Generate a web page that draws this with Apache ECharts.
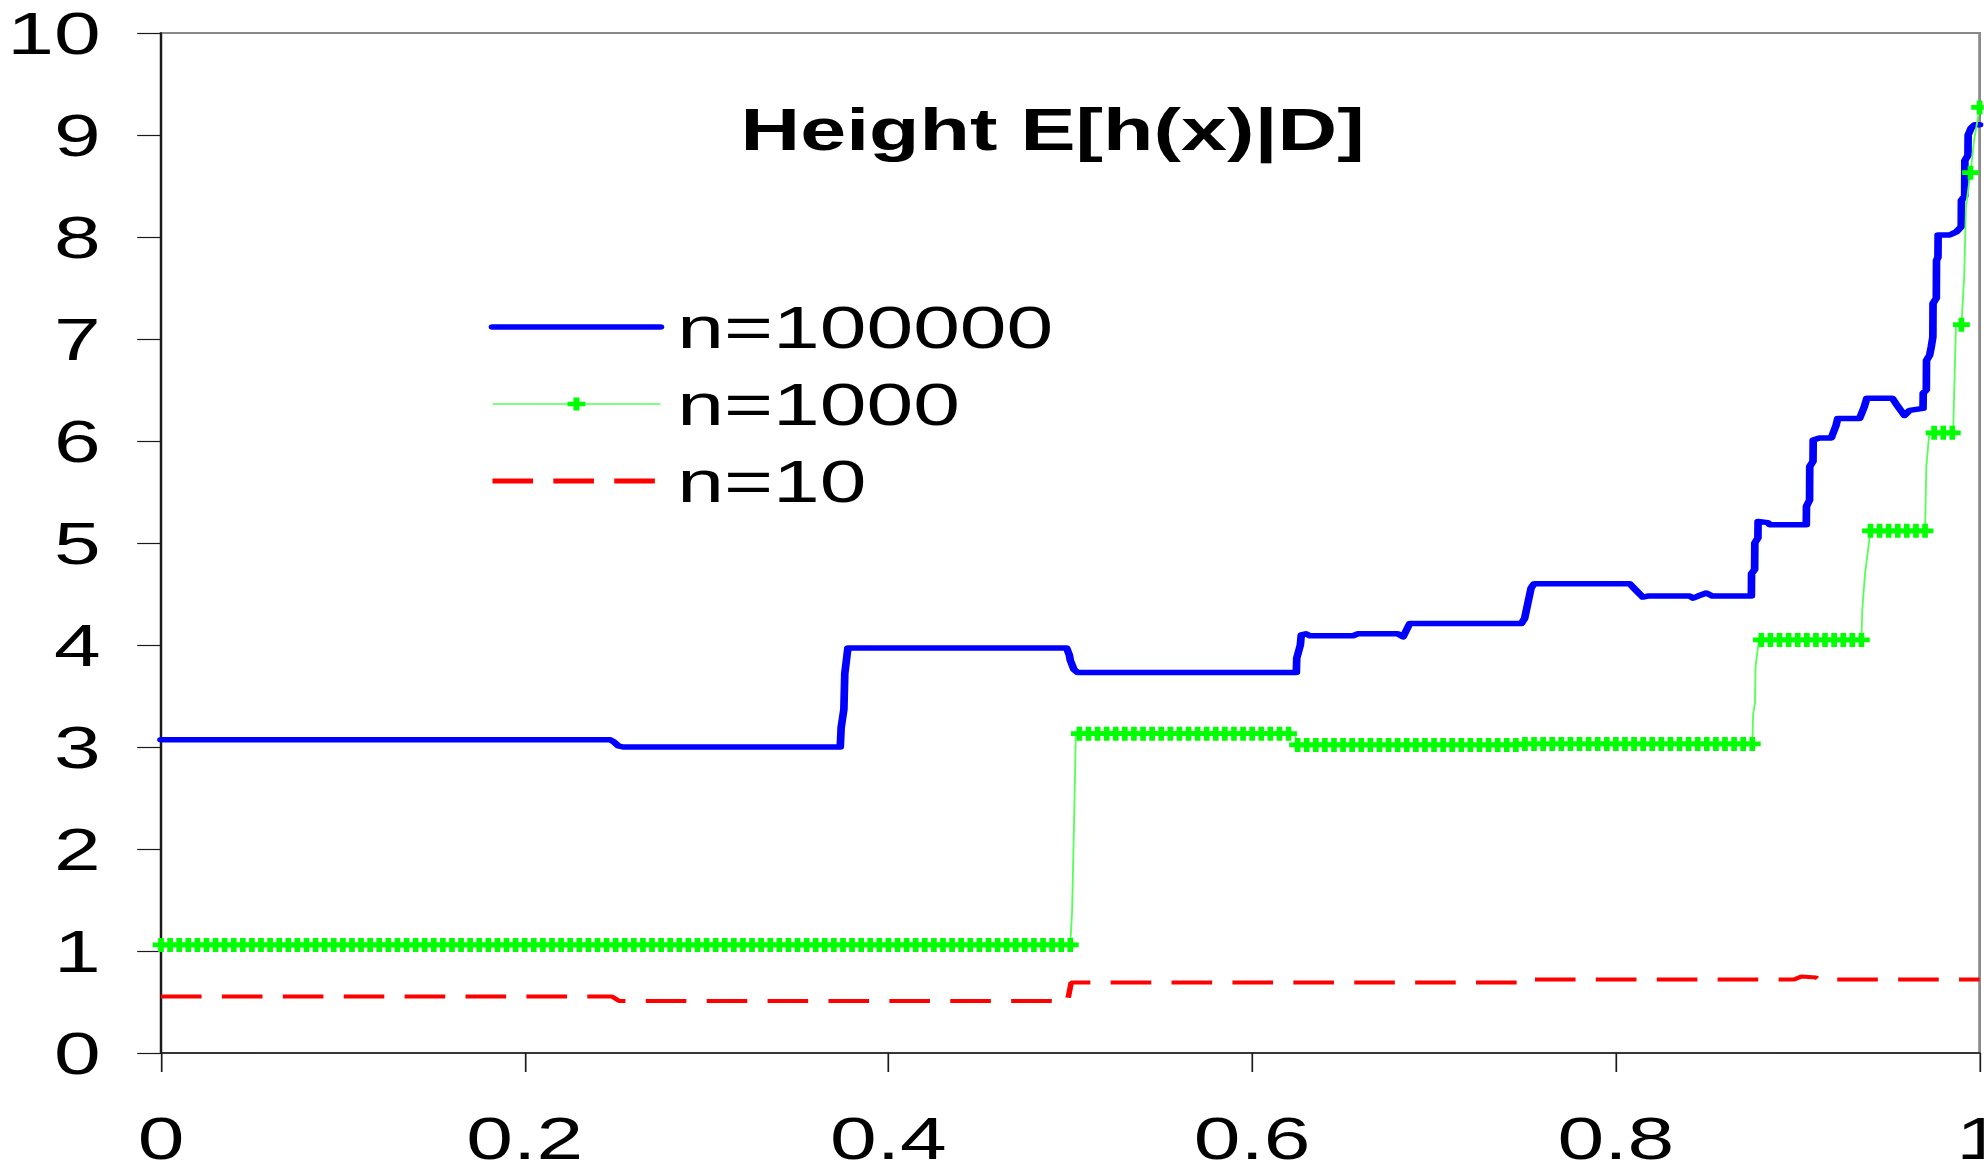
<!DOCTYPE html>
<html>
<head>
<meta charset="utf-8">
<script src="https://cdn.jsdelivr.net/npm/echarts@6.0.0/dist/echarts.min.js"></script>
<style>
html,body{margin:0;padding:0;background:#fff;overflow:hidden;width:1984px;height:1165px}
#chart{width:1417px;height:1165px;transform:scaleX(1.4);transform-origin:0 0}
</style>
</head>
<body>
<div id="chart"></div>
<script>
// ---- data ----
const titleText = 'Height E[h(x)|D]';
const seriesNames = ['n=100000', 'n=1000', 'n=10'];

// n=100000 (blue) breakpoints
const blueX = [0,0.247,0.249,0.2515,0.254,0.3735,0.374,0.3755,0.376,0.3777,0.498,0.4995,0.5,0.502,0.504,
  0.6243,0.6245,0.6265,0.627,0.6295,0.6317,0.6554,0.658,0.68,0.683,0.6866,0.748,0.7498,0.7516,0.7534,0.755,
  0.8076,0.8103,0.8148,0.8175,0.8406,0.8424,0.8452,0.8497,0.853,0.8745,0.8746,0.8763,0.8764,0.8781,0.8782,0.8836,0.8845,
  0.9047,0.9048,0.9065,0.9066,0.9084,0.9085,0.912,0.9185,0.9195,0.921,0.922,0.934,0.9365,0.938,0.952,0.955,0.9587,0.9615,
  0.9689,0.969,0.9707,0.9708,0.9725,0.9734,0.9743,0.9744,0.9762,0.9763,0.9771,0.9772,0.9835,0.9872,0.9899,0.99,
  0.9918,0.9919,0.9936,0.9937,0.9954,0.9973,1];
const blueY = [3.07,3.07,3.05,3.01,3.0,3.0,3.19,3.37,3.72,3.97,3.97,3.9,3.85,3.76,3.73,
  3.73,3.87,4.0,4.1,4.11,4.09,4.09,4.11,4.11,4.08,4.21,4.21,4.26,4.41,4.56,4.6,
  4.6,4.55,4.47,4.48,4.48,4.46,4.48,4.51,4.48,4.48,4.7,4.74,5.0,5.05,5.21,5.2,5.18,
  5.18,5.36,5.42,5.75,5.8,6.01,6.03,6.03,6.08,6.15,6.22,6.22,6.33,6.42,6.42,6.34,6.25,6.3,
  6.32,6.47,6.5,6.79,6.84,6.92,7.02,7.35,7.4,7.77,7.8,8.02,8.02,8.05,8.1,8.36,
  8.4,8.75,8.8,9.0,9.07,9.1,9.1];

// n=1000 (green) marker points
const greenX = [
  0,0.005,0.01,0.015,0.02,0.025,0.03,0.035,0.04,0.045,
  0.05,0.055,0.06,0.065,0.07,0.075,0.08,0.085,0.09,0.095,
  0.1,0.105,0.11,0.115,0.12,0.125,0.13,0.135,0.14,0.145,
  0.15,0.155,0.16,0.165,0.17,0.175,0.18,0.185,0.19,0.195,
  0.2,0.205,0.21,0.215,0.22,0.225,0.23,0.235,0.24,0.245,
  0.25,0.255,0.26,0.265,0.27,0.275,0.28,0.285,0.29,0.295,
  0.3,0.305,0.31,0.315,0.32,0.325,0.33,0.335,0.34,0.345,
  0.35,0.355,0.36,0.365,0.37,0.375,0.38,0.385,0.39,0.395,
  0.4,0.405,0.41,0.415,0.42,0.425,0.43,0.435,0.44,0.445,
  0.45,0.455,0.46,0.465,0.47,0.475,0.48,0.485,0.49,0.495,
  0.5,0.505,0.51,0.515,0.52,0.525,0.53,0.535,0.54,0.545,
  0.55,0.555,0.56,0.565,0.57,0.575,0.58,0.585,0.59,0.595,
  0.6,0.605,0.61,0.615,0.62,0.625,0.63,0.635,0.64,0.645,
  0.65,0.655,0.66,0.665,0.67,0.675,0.68,0.685,0.69,0.695,
  0.7,0.705,0.71,0.715,0.72,0.725,0.73,0.735,0.74,0.745,
  0.75,0.755,0.76,0.765,0.77,0.775,0.78,0.785,0.79,0.795,
  0.8,0.805,0.81,0.815,0.82,0.825,0.83,0.835,0.84,0.845,
  0.85,0.855,0.86,0.865,0.87,0.875,0.88,0.885,0.89,0.895,
  0.9,0.905,0.91,0.915,0.92,0.925,0.93,0.935,0.94,0.945,
  0.95,0.955,0.96,0.965,0.97,0.975,0.98,0.985,0.99,0.995,
  1];
const greenY = [
  1.06,1.06,1.06,1.06,1.06,1.06,1.06,1.06,1.06,1.06,
  1.06,1.06,1.06,1.06,1.06,1.06,1.06,1.06,1.06,1.06,
  1.06,1.06,1.06,1.06,1.06,1.06,1.06,1.06,1.06,1.06,
  1.06,1.06,1.06,1.06,1.06,1.06,1.06,1.06,1.06,1.06,
  1.06,1.06,1.06,1.06,1.06,1.06,1.06,1.06,1.06,1.06,
  1.06,1.06,1.06,1.06,1.06,1.06,1.06,1.06,1.06,1.06,
  1.06,1.06,1.06,1.06,1.06,1.06,1.06,1.06,1.06,1.06,
  1.06,1.06,1.06,1.06,1.06,1.06,1.06,1.06,1.06,1.06,
  1.06,1.06,1.06,1.06,1.06,1.06,1.06,1.06,1.06,1.06,
  1.06,1.06,1.06,1.06,1.06,1.06,1.06,1.06,1.06,1.06,
  1.06,3.13,3.13,3.13,3.13,3.13,3.13,3.13,3.13,3.13,
  3.13,3.13,3.13,3.13,3.13,3.13,3.13,3.13,3.13,3.13,
  3.13,3.13,3.13,3.13,3.13,3.02,3.02,3.02,3.02,3.02,
  3.02,3.02,3.02,3.02,3.02,3.02,3.02,3.02,3.02,3.02,
  3.02,3.02,3.02,3.02,3.02,3.02,3.02,3.02,3.02,3.02,
  3.03,3.03,3.03,3.03,3.03,3.03,3.03,3.03,3.03,3.03,
  3.03,3.03,3.03,3.03,3.03,3.03,3.03,3.03,3.03,3.03,
  3.03,3.03,3.03,3.03,3.03,3.03,4.05,4.05,4.05,4.05,
  4.05,4.05,4.05,4.05,4.05,4.05,4.05,4.05,5.12,5.12,
  5.12,5.12,5.12,5.12,5.12,6.08,6.08,6.08,7.14,8.63,
  9.27];
// n=1000 line bends between markers (no marker drawn)
const greenBendX = [0.501,0.502,0.503,0.6235,0.6245,0.8755,0.8765,0.8768,0.8785,0.9355,0.937,0.9707,0.9722,0.9855,0.9862,0.987,0.9915,0.9925,0.997];
const greenBendY = [1.4,2.2,3.1,3.13,3.03,3.33,3.43,3.79,4.03,4.35,4.7,5.75,6.05,6.11,6.6,7.12,7.6,8.3,8.95];

// n=10 (red) breakpoints
const redX = [0,0.248,0.252,0.4985,0.5005,0.752,0.754,0.898,0.902,0.91,0.912,1];
const redY = [0.555,0.555,0.51,0.51,0.69,0.69,0.72,0.72,0.75,0.74,0.72,0.72];

// axis ranges / ticks
const xMin = 0, xMax = 1, xStep = 0.2;
const yMin = 0, yMax = 10, yStep = 1;

// ---- build series data ----
const pairs = (xs, ys) => xs.map((x, i) => [x, ys[i]]);
const blueData = pairs(blueX, blueY);
const redData = pairs(redX, redY);
const greenData = greenX.map((x, i) => ({ value: [x, greenY[i]] }))
  .concat(greenBendX.map((x, i) => ({ value: [x, greenBendY[i]], symbol: 'none' })))
  .sort((a, b) => a.value[0] - b.value[0]);

const FONT = "'Liberation Sans', Arial, Helvetica, sans-serif";
const plusPath = 'path://M4.3,0H8.7V4.3H13V8.7H8.7V13H4.3V8.7H0V4.3H4.3Z';
const BLUE_W = 5.5, GREEN_W = 1.3, RED_W = 4;

const chart = echarts.init(document.getElementById('chart'), null, { renderer: 'svg' });
chart.setOption({
  animation: false,
  backgroundColor: '#ffffff',
  title: {
    text: titleText,
    left: 529, top: 100, padding: 0,
    textStyle: { fontFamily: FONT, fontSize: 59, fontWeight: 'bold', color: '#000', lineHeight: 59 }
  },
  legend: {
    orient: 'vertical',
    left: 349, top: 297, padding: 0,
    itemWidth: 120, itemHeight: 16, itemGap: 17,
    selectedMode: false,
    textStyle: { fontFamily: FONT, fontSize: 60, color: '#000', padding: [0, 0, 0, 7] },
    data: [
      { name: seriesNames[0], itemStyle: { opacity: 0 }, lineStyle: { width: BLUE_W } },
      { name: seriesNames[1], lineStyle: { width: GREEN_W } },
      { name: seriesNames[2], itemStyle: { opacity: 0 }, lineStyle: { width: 5 } }
    ]
  },
  grid: {
    left: 115, right: 3, top: 33, bottom: 112,
    outerBoundsMode: 'none', containLabel: false,
    show: true, borderColor: '#8a8a8a', borderWidth: 2, backgroundColor: 'transparent'
  },
  xAxis: {
    type: 'value', min: xMin, max: xMax, interval: xStep,
    axisLine: { show: true, onZero: false, lineStyle: { color: '#1a1a1a', width: 1.5 } },
    axisTick: { show: true, inside: false, length: 19, lineStyle: { color: '#1a1a1a', width: 1.2 } },
    axisLabel: { fontFamily: FONT, fontSize: 60, color: '#000', margin: 55, lineHeight: 60 },
    splitLine: { show: false }
  },
  yAxis: {
    type: 'value', min: yMin, max: yMax, interval: yStep,
    axisLine: { show: true, onZero: false, lineStyle: { color: '#1a1a1a', width: 1.5 } },
    axisTick: { show: true, inside: false, length: 17, lineStyle: { color: '#1a1a1a', width: 1.2 } },
    axisLabel: { fontFamily: FONT, fontSize: 60, color: '#000', margin: 43 },
    splitLine: { show: false }
  },
  series: [
    {
      name: seriesNames[0], type: 'line', data: blueData,
      symbol: 'none', showSymbol: false,
      lineStyle: { color: '#0000ff', width: BLUE_W, join: 'round', cap: 'round' },
      itemStyle: { color: '#0000ff' },
      z: 2
    },
    {
      name: seriesNames[1], type: 'line', data: greenData,
      symbol: plusPath, symbolSize: [12, 14], showAllSymbol: true,
      lineStyle: { color: '#55ff55', width: GREEN_W },
      itemStyle: { color: '#00ff00' },
      z: 3
    },
    {
      name: seriesNames[2], type: 'line', data: redData,
      symbol: 'none', showSymbol: false,
      lineStyle: { color: '#ff0000', width: RED_W, type: [29, 14.5] },
      itemStyle: { color: '#ff0000' },
      z: 4
    }
  ]
});
</script>
</body>
</html>
